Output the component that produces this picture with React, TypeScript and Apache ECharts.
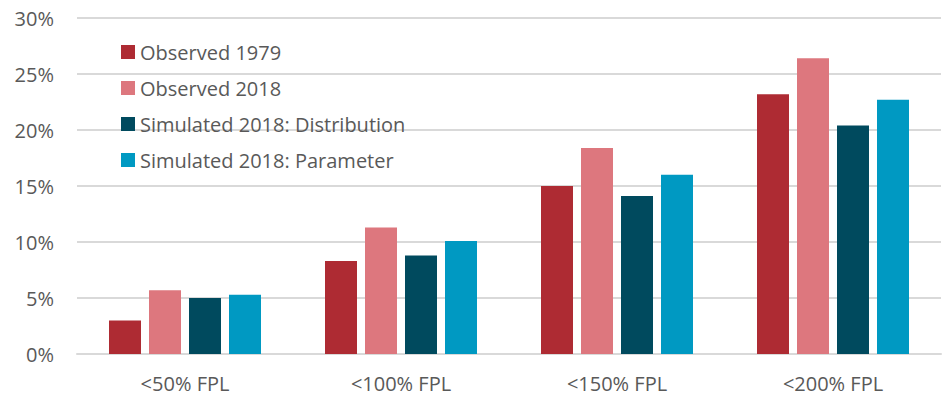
import React, { useEffect, useRef } from "react";
import * as echarts from "echarts";

const categories = ["<50% FPL", "<100% FPL", "<150% FPL", "<200% FPL"];
const observed1979 = [3.0, 8.3, 15.0, 23.2];
const observed2018 = [5.7, 11.3, 18.4, 26.4];
const simDistribution = [5.0, 8.8, 14.1, 20.4];
const simParameter = [5.3, 10.1, 16.0, 22.7];
const seriesNames = [
  "Observed 1979",
  "Observed 2018",
  "Simulated 2018: Distribution",
  "Simulated 2018: Parameter",
];
const seriesColors = ["#AE2B33", "#DD777E", "#004A5E", "#0099C2"];

export default function App() {
  const ref = useRef<HTMLDivElement>(null);
  useEffect(() => {
    if (!ref.current) return;
    const chart = echarts.init(ref.current, undefined, { renderer: "svg" });
    const font = "'Open Sans', sans-serif";
    const data = [observed1979, observed2018, simDistribution, simParameter];
    chart.setOption({
      animation: false,
      textStyle: { fontFamily: font },
      grid: { left: 77, right: 9, top: 18, bottom: 42, containLabel: false },
      legend: {
        orient: "vertical",
        left: 116,
        top: 37,
        itemWidth: 14,
        itemHeight: 14,
        itemGap: 16,
        icon: "rect",
        data: seriesNames,
        textStyle: { color: "#595959", fontSize: 20, lineHeight: 20, fontFamily: font },
      },
      xAxis: {
        type: "category",
        data: categories,
        axisTick: { show: false },
        axisLine: { show: true, lineStyle: { color: "#d9d9d9", width: 2 } },
        axisLabel: { color: "#595959", fontSize: 20, margin: 19, fontFamily: font },
      },
      yAxis: {
        type: "value",
        min: 0,
        max: 30,
        interval: 5,
        axisLine: { show: false },
        axisTick: { show: false },
        splitLine: { lineStyle: { color: "#d9d9d9", width: 2 } },
        axisLabel: {
          color: "#595959",
          fontSize: 20,
          margin: 23,
          fontFamily: font,
          formatter: (v: number) => v + "%",
        },
      },
      series: data.map((d, i) => ({
        name: seriesNames[i],
        type: "bar",
        data: d,
        barWidth: 32,
        barGap: "25%",
        itemStyle: { color: seriesColors[i] },
      })),
    });
    return () => chart.dispose();
  }, []);
  return (
    <div
      ref={ref}
      style={{ position: "fixed", left: 0, top: 0, width: 950, height: 396, background: "#fff" }}
    />
  );
}
